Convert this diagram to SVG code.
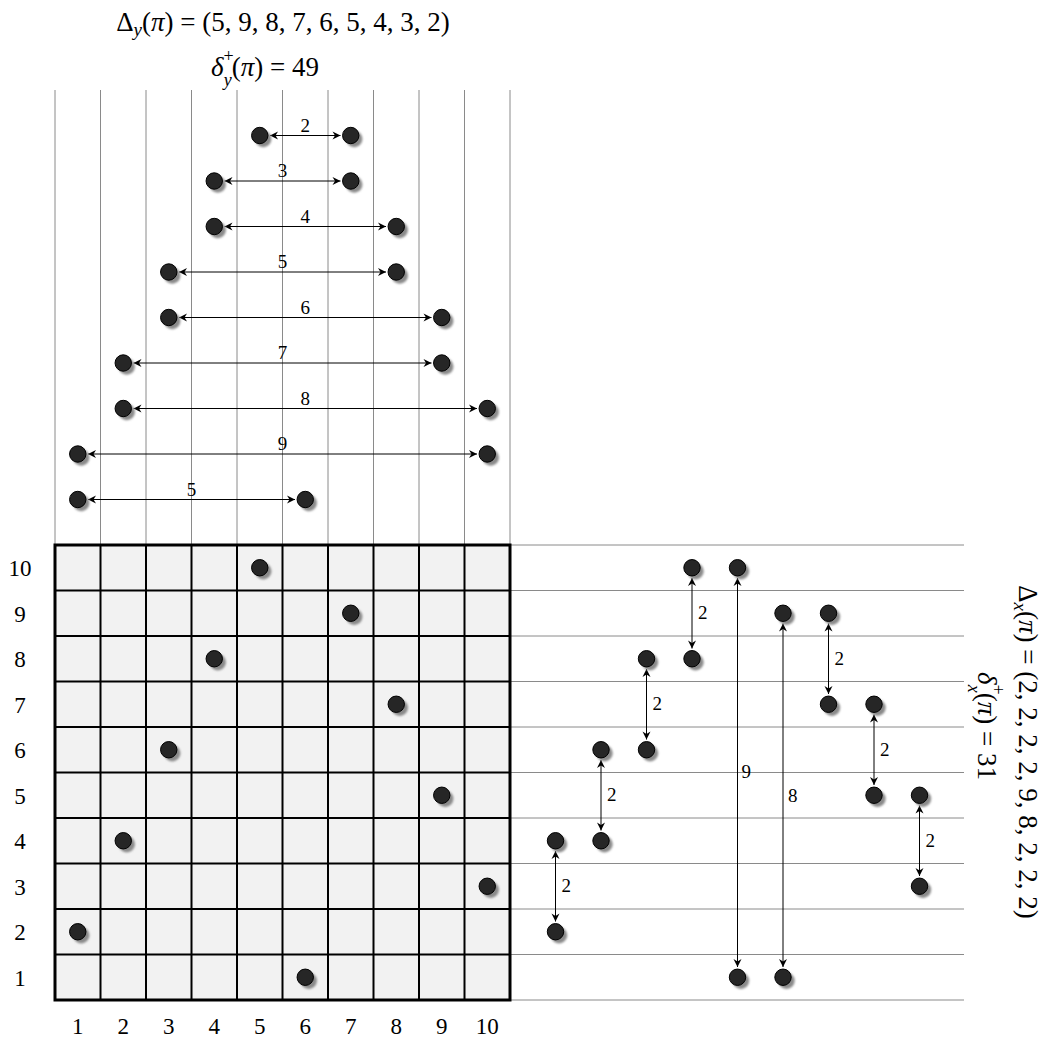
<svg xmlns="http://www.w3.org/2000/svg" xmlns:xlink="http://www.w3.org/1999/xlink" width="1049" height="1047" viewBox="0 0 1049 1047">
<style>
  .guide { stroke: #8a8a8a; stroke-width: 1; fill: none; }
  .frame { fill: none; stroke: #000; stroke-width: 3; }
  .conn { stroke: #000; stroke-width: 1; fill: none; marker-start: url(#stealth); marker-end: url(#stealth); }
  .math { font-family: "Liberation Serif", "DejaVu Serif", serif; fill: #000; }
  .lbl { font-family: "Liberation Serif", "DejaVu Serif", serif; font-size: 19px; fill: #000; }
  .axis { font-family: "Liberation Serif", "DejaVu Serif", serif; font-size: 23px; fill: #000; text-anchor: middle; }
  .it { font-style: italic; }
</style>
<defs>
  <marker id="stealth" viewBox="-9 -4.5 10 9" refX="0" refY="0" markerWidth="10" markerHeight="9" markerUnits="userSpaceOnUse" orient="auto-start-reverse">
    <path d="M0,0 L-8,-4 L-5.5,0 L-8,4 Z" fill="#000"/>
  </marker>
  <filter id="blur" x="-50%" y="-50%" width="200%" height="200%">
    <feGaussianBlur stdDeviation="0.8"/>
  </filter>
  <g id="dot">
    <circle cx="3.5" cy="3.5" r="8.2" fill="#8a8a8a" filter="url(#blur)"/>
    <circle cx="0" cy="0" r="8.2" fill="#262626" stroke="#000" stroke-width="1"/>
  </g>
</defs>
<rect width="1049" height="1047" fill="#fff"/>

<!-- guide lines -->
<g id="guides">
  <path class="guide" d="M55,90V545 M100.5,90V545 M146,90V545 M191.5,90V545 M237,90V545 M282.5,90V545 M328,90V545 M373.5,90V545 M419,90V545 M464.5,90V545 M510,90V545"/>
  <path class="guide" d="M510,545H964 M510,590.5H964 M510,636H964 M510,681.5H964 M510,727H964 M510,772.5H964 M510,818H964 M510,863.5H964 M510,909H964 M510,954.5H964 M510,1000H964"/>
</g>

<!-- grid -->
<g id="grid">
  <rect x="55" y="545" width="455" height="455" fill="#f2f2f2"/>
  <path d="M100.5,545V1000 M146,545V1000 M191.5,545V1000 M237,545V1000 M282.5,545V1000 M328,545V1000 M373.5,545V1000 M419,545V1000 M464.5,545V1000 M55,590.5H510 M55,636H510 M55,681.5H510 M55,727H510 M55,772.5H510 M55,818H510 M55,863.5H510 M55,909H510 M55,954.5H510" stroke="#000" stroke-width="2" fill="none"/>
  <rect class="frame" x="55" y="545" width="455" height="455"/>
</g>

<!-- axis labels -->
<g id="row-labels" class="axis">
  <text x="20" y="576">10</text>
  <text x="20" y="621.5">9</text>
  <text x="20" y="667">8</text>
  <text x="20" y="712.5">7</text>
  <text x="20" y="758">6</text>
  <text x="20" y="803.5">5</text>
  <text x="20" y="849">4</text>
  <text x="20" y="894.5">3</text>
  <text x="20" y="940">2</text>
  <text x="20" y="985.5">1</text>
</g>
<g id="col-labels" class="axis">
  <text x="77.75" y="1034">1</text>
  <text x="123.25" y="1034">2</text>
  <text x="168.75" y="1034">3</text>
  <text x="214.25" y="1034">4</text>
  <text x="259.75" y="1034">5</text>
  <text x="305.25" y="1034">6</text>
  <text x="350.75" y="1034">7</text>
  <text x="396.25" y="1034">8</text>
  <text x="441.75" y="1034">9</text>
  <text x="487.25" y="1034">10</text>
</g>

<!-- connectors -->
<g id="connectors">
  <path class="conn" d="M270,135.5H340.5"/>
  <path class="conn" d="M224.5,181H340.5"/>
  <path class="conn" d="M224.5,226.5H386"/>
  <path class="conn" d="M179,272H386"/>
  <path class="conn" d="M179,317.5H431.5"/>
  <path class="conn" d="M133.5,363H431.5"/>
  <path class="conn" d="M133.5,408.5H477"/>
  <path class="conn" d="M88,454H477"/>
  <path class="conn" d="M88,499.5H295"/>

  <path class="conn" d="M555.5,851V921.5"/>
  <path class="conn" d="M601,760V830.5"/>
  <path class="conn" d="M646.5,669V739.5"/>
  <path class="conn" d="M692,578V648.5"/>
  <path class="conn" d="M737.5,578V967"/>
  <path class="conn" d="M783,623.5V967"/>
  <path class="conn" d="M828.5,623.5V694"/>
  <path class="conn" d="M874,714.5V785"/>
  <path class="conn" d="M919.5,805.5V876"/>
</g>

<!-- connector labels -->
<g id="connector-labels" class="lbl">
  <text x="305.25" y="131.5" text-anchor="middle">2</text>
  <text x="282.5" y="177" text-anchor="middle">3</text>
  <text x="305.25" y="222.5" text-anchor="middle">4</text>
  <text x="282.5" y="268" text-anchor="middle">5</text>
  <text x="305.25" y="313.5" text-anchor="middle">6</text>
  <text x="282.5" y="359" text-anchor="middle">7</text>
  <text x="305.25" y="404.5" text-anchor="middle">8</text>
  <text x="282.5" y="450" text-anchor="middle">9</text>
  <text x="191.5" y="495.5" text-anchor="middle">5</text>

  <text x="561.5" y="892">2</text>
  <text x="607" y="801">2</text>
  <text x="652.5" y="710">2</text>
  <text x="698" y="619">2</text>
  <text x="741.5" y="778">9</text>
  <text x="788" y="801.5">8</text>
  <text x="834.5" y="664.5">2</text>
  <text x="880" y="755.5">2</text>
  <text x="925.5" y="846.5">2</text>
</g>

<!-- nodes: top -->
<g id="nodes-top">
  <g id="t1a"><use href="#dot" x="259.75" y="135.5"/></g>
  <g id="t1b"><use href="#dot" x="350.75" y="135.5"/></g>
  <g id="t2a"><use href="#dot" x="214.25" y="181"/></g>
  <g id="t2b"><use href="#dot" x="350.75" y="181"/></g>
  <g id="t3a"><use href="#dot" x="214.25" y="226.5"/></g>
  <g id="t3b"><use href="#dot" x="396.25" y="226.5"/></g>
  <g id="t4a"><use href="#dot" x="168.75" y="272"/></g>
  <g id="t4b"><use href="#dot" x="396.25" y="272"/></g>
  <g id="t5a"><use href="#dot" x="168.75" y="317.5"/></g>
  <g id="t5b"><use href="#dot" x="441.75" y="317.5"/></g>
  <g id="t6a"><use href="#dot" x="123.25" y="363"/></g>
  <g id="t6b"><use href="#dot" x="441.75" y="363"/></g>
  <g id="t7a"><use href="#dot" x="123.25" y="408.5"/></g>
  <g id="t7b"><use href="#dot" x="487.25" y="408.5"/></g>
  <g id="t8a"><use href="#dot" x="77.75" y="454"/></g>
  <g id="t8b"><use href="#dot" x="487.25" y="454"/></g>
  <g id="t9a"><use href="#dot" x="77.75" y="499.5"/></g>
  <g id="t9b"><use href="#dot" x="305.25" y="499.5"/></g>
</g>

<!-- nodes: grid -->
<g id="nodes-grid">
  <g id="g1"><use href="#dot" x="77.75" y="931.75"/></g>
  <g id="g2"><use href="#dot" x="123.25" y="840.75"/></g>
  <g id="g3"><use href="#dot" x="168.75" y="749.75"/></g>
  <g id="g4"><use href="#dot" x="214.25" y="658.75"/></g>
  <g id="g5"><use href="#dot" x="259.75" y="567.75"/></g>
  <g id="g6"><use href="#dot" x="305.25" y="977.25"/></g>
  <g id="g7"><use href="#dot" x="350.75" y="613.25"/></g>
  <g id="g8"><use href="#dot" x="396.25" y="704.25"/></g>
  <g id="g9"><use href="#dot" x="441.75" y="795.25"/></g>
  <g id="g10"><use href="#dot" x="487.25" y="886.25"/></g>
</g>

<!-- nodes: right -->
<g id="nodes-right">
  <g id="r1a"><use href="#dot" x="555.5" y="840.75"/></g>
  <g id="r1b"><use href="#dot" x="555.5" y="931.75"/></g>
  <g id="r2a"><use href="#dot" x="601" y="749.75"/></g>
  <g id="r2b"><use href="#dot" x="601" y="840.75"/></g>
  <g id="r3a"><use href="#dot" x="646.5" y="658.75"/></g>
  <g id="r3b"><use href="#dot" x="646.5" y="749.75"/></g>
  <g id="r4a"><use href="#dot" x="692" y="567.75"/></g>
  <g id="r4b"><use href="#dot" x="692" y="658.75"/></g>
  <g id="r5a"><use href="#dot" x="737.5" y="567.75"/></g>
  <g id="r5b"><use href="#dot" x="737.5" y="977.25"/></g>
  <g id="r6a"><use href="#dot" x="783" y="613.25"/></g>
  <g id="r6b"><use href="#dot" x="783" y="977.25"/></g>
  <g id="r7a"><use href="#dot" x="828.5" y="613.25"/></g>
  <g id="r7b"><use href="#dot" x="828.5" y="704.25"/></g>
  <g id="r8a"><use href="#dot" x="874" y="704.25"/></g>
  <g id="r8b"><use href="#dot" x="874" y="795.25"/></g>
  <g id="r9a"><use href="#dot" x="919.5" y="795.25"/></g>
  <g id="r9b"><use href="#dot" x="919.5" y="886.25"/></g>
</g>

<!-- titles -->
<g id="title-top" class="math" font-size="27">
  <text x="283" y="31" text-anchor="middle">Δ<tspan class="it" font-size="19" dy="5">y</tspan><tspan dy="-5">(</tspan><tspan class="it">π</tspan>) = (5, 9, 8, 7, 6, 5, 4, 3, 2)</text>
  <text x="265" y="76" text-anchor="middle"><tspan class="it">δ</tspan><tspan font-size="18" dy="-14">+</tspan><tspan class="it" font-size="18" dx="-10" dy="24">y</tspan><tspan dy="-10">(</tspan><tspan class="it">π</tspan>) = 49</text>
</g>
<g id="title-right" class="math" font-size="27">
  <text transform="translate(1019,752) rotate(90)" text-anchor="middle">Δ<tspan class="it" font-size="19" dy="5">x</tspan><tspan dy="-5">(</tspan><tspan class="it">π</tspan>) = (2, 2, 2, 2, 9, 8, 2, 2, 2)</text>
  <text transform="translate(978,726) rotate(90)" text-anchor="middle"><tspan class="it">δ</tspan><tspan font-size="18" dy="-14">+</tspan><tspan class="it" font-size="18" dx="-10" dy="24">x</tspan><tspan dy="-10">(</tspan><tspan class="it">π</tspan>) = 31</text>
</g>
</svg>
